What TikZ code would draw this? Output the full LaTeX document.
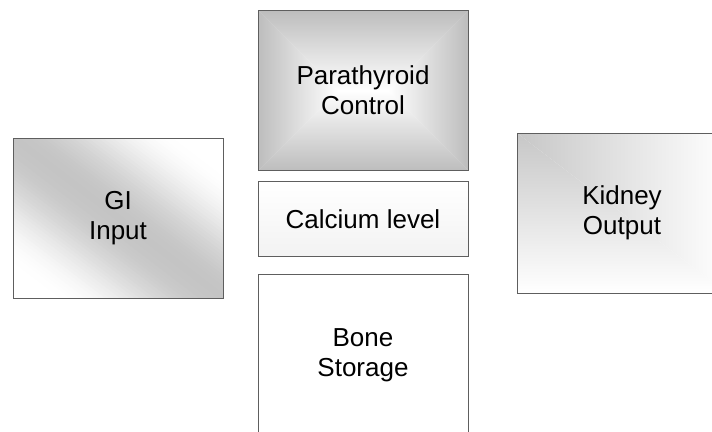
\documentclass[tikz,border=0pt]{standalone}
\usepackage{fontspec}
\setmainfont{Liberation Sans}
\usetikzlibrary{positioning,calc}
\definecolor{edge}{HTML}{5E5E5E}
\definecolor{shadegray}{HTML}{BDBDBD}

\tikzset{
  block/.style={draw=edge,line width=0.9pt,minimum width=210pt,minimum height=160pt,
    inner sep=0pt,align=center,font=\fontsize{26}{30}\selectfont},
  flat/.style={block,minimum height=75pt,top color=white,bottom color=black!5},
  % grey edges, white ridge in the middle
  fromcentre/.style={block,path picture={
    \coordinate (nw) at (path picture bounding box.north west);
    \coordinate (ne) at (path picture bounding box.north east);
    \coordinate (sw) at (path picture bounding box.south west);
    \coordinate (se) at (path picture bounding box.south east);
    \coordinate (cl) at ($(path picture bounding box.center)+(-25pt,0)$);
    \coordinate (cr) at ($(path picture bounding box.center)+(25pt,0)$);
    \shade[top color=shadegray,bottom color=white] (nw)--(ne)--(cr)--(cl)--cycle;
    \shade[top color=white,bottom color=shadegray] (sw)--(se)--(cr)--(cl)--cycle;
    \shade[left color=shadegray,right color=white] (nw)--(sw)--(cl)--cycle;
    \shade[left color=white,right color=shadegray] (ne)--(se)--(cr)--cycle;}},
  % grey in the top left corner only
  fromcorner/.style={block,path picture={
    \coordinate (nw) at (path picture bounding box.north west);
    \coordinate (ne) at (path picture bounding box.north east);
    \coordinate (sw) at (path picture bounding box.south west);
    \coordinate (se) at (path picture bounding box.south east);
    \shade[left color=shadegray!85,right color=white] (nw)--(ne)--(se)--cycle;
    \shade[top color=shadegray!85,bottom color=white] (nw)--(sw)--(se)--cycle;}},
  % grey along the falling diagonal, white in the other two corners (thin strips)
  diagonal/.style={block,path picture={
    \coordinate (c) at (path picture bounding box.center);
    \foreach \t in {-134,-131,...,130}{
      \pgfmathsetmacro\p{23*(1+cos(180*min(abs(\t+1.5)/102,1)))/2}
      \fill[black!\p] ($(c)+({\t*0.606-135},{-\t*0.795-103})$)
        -- ($(c)+({\t*0.606+135},{-\t*0.795+103})$)
        -- ($(c)+({(\t+3.6)*0.606+135},{-(\t+3.6)*0.795+103})$)
        -- ($(c)+({(\t+3.6)*0.606-135},{-(\t+3.6)*0.795-103})$) -- cycle;
    }}}
}

\begin{document}
\begin{tikzpicture}[x=1pt,y=-1pt]
  \useasboundingbox (0,0) rectangle (712,431);
  \clip (0,0) rectangle (712,431);
  \node[diagonal] (gi) at (118,218.5) {GI\\Input};
  \node[fromcentre] (para) at (363,90.5) {Parathyroid\\Control};
  \node[flat,below=10.5pt of para] (calc) {Calcium level};
  \node[block,below=17pt of calc] (bone) {Bone\\Storage};
  \node[fromcorner] (kidney) at (622,213) {Kidney\\Output};
\end{tikzpicture}
\end{document}
